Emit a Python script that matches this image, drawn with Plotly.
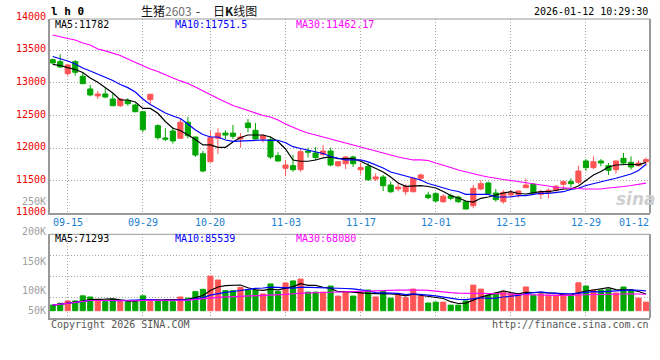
import plotly.graph_objects as go
import pandas as pd

# ---------------- data ----------------
opens = [13356, 13326, 13141, 13326, 13101, 12907, 12800, 12830, 12753, 12650,
         12733, 12661, 12558, 12743, 12344, 12155, 12262, 12150, 12396, 12170,
         11914, 11791, 12150, 12230, 12230, 12140, 12385, 12273, 12140, 12129,
         11884, 11690, 11730, 11669, 11955, 11925, 11904, 11955, 11730, 11761,
         11864, 11669, 11720, 11526, 11557, 11434, 11373, 11331, 11331, 11537,
         11281, 11301, 11178, 11270, 11250, 11178, 11117, 11373, 11465, 11311,
         11178, 11281, 11291, 11393, 11445, 11291, 11322, 11353, 11445, 11485,
         11475, 11802, 11700, 11802, 11730, 11669, 11843, 11782, 11730, 11791]
highs = [13370, 13440, 13290, 13350, 13163, 12968, 12876, 12918, 12841, 12760,
         12764, 12681, 12565, 12830, 12365, 12304, 12324, 12447, 12477, 12175,
         11955, 12273, 12304, 12273, 12355, 12230, 12447, 12385, 12212, 12181,
         11935, 11813, 11894, 11986, 12006, 12017, 12048, 12006, 11800, 11874,
         11884, 11772, 11772, 11608, 11588, 11485, 11475, 11445, 11545, 11608,
         11331, 11322, 11291, 11301, 11270, 11189, 11434, 11506, 11485, 11373,
         11353, 11362, 11353, 11537, 11465, 11362, 11383, 11434, 11506, 11537,
         11730, 11833, 11874, 11833, 11772, 11810, 11925, 11874, 11813, 11854]
lows = [13295, 13230, 13111, 13111, 12980, 12795, 12753, 12764, 12645, 12630,
        12650, 12550, 12242, 12681, 12129, 12109, 12068, 12140, 12150, 11864,
        11629, 11785, 11914, 12140, 12140, 12006, 12242, 12135, 12089, 11833,
        11795, 11568, 11638, 11638, 11854, 11813, 11874, 11720, 11710, 11680,
        11710, 11598, 11495, 11495, 11342, 11311, 11342, 11281, 11322, 11495,
        11219, 11169, 11158, 11199, 11158, 11060, 11077, 11353, 11291, 11178,
        11148, 11250, 11240, 11390, 11300, 11219, 11230, 11331, 11362, 11393,
        11445, 11649, 11680, 11720, 11588, 11608, 11741, 11669, 11720, 11730]
closes = [13306, 13244, 13275, 13163, 12988, 12815, 12830, 12784, 12650, 12753,
          12681, 12558, 12282, 12825, 12160, 12135, 12110, 12396, 12190, 11894,
          11649, 12160, 12230, 12200, 12181, 12170, 12314, 12140, 12190, 11864,
          11802, 11741, 11669, 11945, 11935, 11854, 11955, 11741, 11791, 11864,
          11761, 11700, 11515, 11557, 11423, 11331, 11403, 11414, 11537, 11588,
          11240, 11189, 11261, 11230, 11178, 11066, 11383, 11454, 11301, 11209,
          11322, 11311, 11342, 11434, 11311, 11331, 11353, 11414, 11485, 11454,
          11649, 11700, 11791, 11772, 11659, 11802, 11772, 11710, 11772, 11823]
ma5 = [13283, 13267, 13234, 13206, 13160, 13076, 13010, 12930, 12845, 12738,
       12738, 12708, 12608, 12608, 12534, 12408, 12304, 12270, 12201, 12132,
       12048, 12048, 12012, 12012, 12094, 12163, 12201, 12201, 12201, 12170,
       12101, 11986, 11818, 11798, 11798, 11818, 11849, 11864, 11839, 11839,
       11839, 11798, 11741, 11680, 11634, 11557, 11465, 11414, 11419, 11423,
       11411, 11388, 11334, 11273, 11235, 11189, 11173, 11230, 11250, 11281,
       11311, 11331, 11304, 11296, 11311, 11331, 11331, 11357, 11373, 11373,
       11419, 11503, 11588, 11641, 11710, 11741, 11752, 11752, 11744, 11782]
ma10 = [13405, 13375, 13336, 13290, 13229, 13183, 13132, 13091, 13037, 12976,
        12927, 12861, 12753, 12669, 12600, 12539, 12493, 12454, 12370, 12278,
        12209, 12170, 12170, 12124, 12104, 12109, 12124, 12124, 12124, 12120,
        12120, 12083, 12022, 11994, 11971, 11948, 11917, 11871, 11841, 11818,
        11818, 11818, 11788, 11741, 11695, 11634, 11603, 11572, 11542, 11511,
        11457, 11423, 11388, 11357, 11334, 11291, 11291, 11291, 11291, 11250,
        11250, 11250, 11270, 11270, 11291, 11307, 11307, 11319, 11331, 11365,
        11384, 11426, 11457, 11488, 11511, 11537, 11572, 11603, 11657, 11751]
ma30 = [13735, 13704, 13681, 13658, 13612, 13582, 13520, 13490, 13459, 13421,
        13367, 13313, 13267, 13214, 13175, 13122, 13075, 13030, 12991, 12937,
        12876, 12815, 12761, 12707, 12654, 12615, 12577, 12539, 12500, 12477,
        12431, 12370, 12316, 12270, 12232, 12201, 12170, 12132, 12109, 12071,
        12040, 12009, 11979, 11948, 11925, 11894, 11864, 11841, 11818, 11818,
        11810, 11772, 11741, 11703, 11664, 11634, 11611, 11580, 11557, 11534,
        11518, 11503, 11488, 11472, 11457, 11442, 11419, 11396, 11388, 11380,
        11373, 11373, 11373, 11373, 11388, 11396, 11411, 11426, 11442, 11462]
volumes = [24000, 32000, 42000, 42000, 64000, 59000, 44000, 39000, 50000, 39000,
           39000, 39000, 64000, 39000, 47000, 47000, 39000, 59000, 54000, 82000,
           92000, 149000, 132000, 86000, 86000, 100000, 89000, 89000, 72000, 115000,
           83000, 119000, 128000, 136000, 80000, 80000, 80000, 106000, 63000, 80000,
           63000, 77000, 89000, 59000, 83000, 54000, 67000, 56000, 93000, 63000,
           33000, 37000, 37000, 24000, 24000, 42000, 110000, 93000, 67000, 76000,
           80000, 72000, 67000, 102000, 67000, 72000, 67000, 67000, 67000, 63000,
           120000, 106000, 89000, 89000, 92000, 76000, 102000, 89000, 54000, 37000]
tick_index = [2, 12, 21, 31, 41, 51, 61, 71, 79]
tick_labels = ["09-15", "09-29", "10-20", "11-03", "11-17", "12-01", "12-15", "12-29", "01-12"]
price_labels = [11000, 11500, 12000, 12500, 13000, 13500, 14000]
vol_labels = ["250K", "200K", "150K", "100K", "50K"]
ma_price_text = ["MA5:11782", "MA10:11751.5", "MA30:11462.17"]
ma_vol_text = ["MA5:71293", "MA10:85539", "MA30:68080"]

# ---------------- styling ----------------
W, H = 660, 360
MONO = "DejaVu Sans Mono"
CJK = "Noto Sans CJK SC"
RED, GREEN = "#ff5555", "#00a600"
GRID = "#a8a8a8"
FRAME = "#999999"
X0, X1 = 50, 650
MAIN_TOP, MAIN_BOT = 19, 213.3
VOL_TOP, VOL_BOT = 234.3, 318

def px(v):
    return 1 - v / H

idx = list(range(len(closes)))
up = [c >= o for o, c in zip(opens, closes)]
cols = [RED if u else GREEN for u in up]

vol_s = pd.Series(volumes, dtype=float)
vma5 = vol_s.rolling(5, min_periods=1).mean().tolist()
vma10 = vol_s.rolling(10, min_periods=1).mean().tolist()
vma30 = vol_s.rolling(30, min_periods=1).mean().tolist()

fig = go.Figure()

# wicks
for flag, col in ((True, RED), (False, GREEN)):
    wx, wy = [], []
    for i in idx:
        if up[i] == flag:
            wx += [i, i, None]
            wy += [lows[i], highs[i], None]
    fig.add_trace(go.Scatter(x=wx, y=wy, mode="lines", line=dict(color=col, width=1),
                             hoverinfo="skip", xaxis="x", yaxis="y"))

# bodies
fig.add_trace(go.Bar(x=idx, y=[abs(c - o) for o, c in zip(opens, closes)],
                     base=[min(o, c) for o, c in zip(opens, closes)],
                     width=0.68, marker=dict(color=cols, line=dict(color=cols, width=1)),
                     xaxis="x", yaxis="y"))

for vals, col in ((ma5, "black"), (ma10, "#0000ff"), (ma30, "#ff00ff")):
    fig.add_trace(go.Scatter(x=idx, y=vals, mode="lines", line=dict(color=col, width=1.2),
                             xaxis="x", yaxis="y"))

# volume
fig.add_trace(go.Bar(x=idx, y=volumes, width=0.68,
                     marker=dict(color=cols, line=dict(color=cols, width=1)),
                     xaxis="x2", yaxis="y2"))
for vals, col in ((vma5, "black"), (vma10, "#0000ff"), (vma30, "#ff00ff")):
    fig.add_trace(go.Scatter(x=idx, y=vals, mode="lines", line=dict(color=col, width=1.2),
                             xaxis="x2", yaxis="y2"))

# axes
xr = [-0.36, 79.53]
price_per_px = 2500 / 163.0
yr = [11000, 11000 + (MAIN_BOT - MAIN_TOP) * price_per_px]
vol_base_px = 310.7
vol_per_px = 4300
vr = [-(VOL_BOT - vol_base_px) * vol_per_px, (vol_base_px - VOL_TOP) * vol_per_px]
vgrid = [vr[0] + k * (vr[1] - vr[0]) / 4 for k in (1, 2, 3)]

common_x = dict(domain=[X0 / W, X1 / W], range=xr, tickvals=tick_index[:-1],
                showticklabels=False, ticks="", showgrid=True, gridcolor=GRID,
                griddash="1px,2px", gridwidth=1, zeroline=False,
                showline=True, linecolor=FRAME, linewidth=2)
common_y = dict(showticklabels=False, ticks="", showgrid=True, gridcolor=GRID,
                griddash="1px,2px", gridwidth=1, zeroline=False,
                showline=True, linecolor=FRAME, linewidth=2)

fig.update_layout(
    width=W, height=H, margin=dict(l=0, r=0, t=0, b=0),
    paper_bgcolor="white", plot_bgcolor="white", showlegend=False,
    barmode="overlay",
    xaxis=dict(anchor="y", **common_x),
    yaxis=dict(anchor="x", domain=[px(MAIN_BOT), px(MAIN_TOP)], range=yr,
               tickvals=price_labels[1:-1], **common_y),
    xaxis2=dict(anchor="y2", **common_x),
    yaxis2=dict(anchor="x2", domain=[px(VOL_BOT), px(VOL_TOP)], range=vr,
                tickvals=vgrid, **common_y),
)

shapes = []
for top, bot in ((MAIN_TOP, MAIN_BOT), (VOL_TOP, VOL_BOT)):
    shapes.append(dict(type="line", xref="paper", yref="paper", x0=X0 / W, x1=X1 / W,
                       y0=px(top), y1=px(top), line=dict(color=FRAME, width=1)))
    shapes.append(dict(type="line", xref="paper", yref="paper", x0=X1 / W, x1=X1 / W,
                       y0=px(bot), y1=px(top), line=dict(color=FRAME, width=2)))
fig.update_layout(shapes=shapes)

anns = []

def ann(text, x, y, color="black", anchor="left", size=10, family=MONO, xref="paper", yref="paper", **kw):
    anns.append(dict(text=text, x=x, y=y, xref=xref, yref=yref, xanchor=anchor,
                     yanchor="middle", showarrow=False, borderpad=0,
                     font=dict(family=family, size=size, color=color), **kw))

# header
ann("<b>l h 0</b>", X0 / W, px(11), size=11)
ann("生猪<span style='color:#707070'>2603</span>", 140 / W, px(10.5), size=12, family=CJK, color="#111")
ann("-", 198 / W, px(10.5), anchor="center", size=12, family=CJK, color="#111")
ann("日<b>K</b>线图", 212 / W, px(10.5), size=12, family=CJK, color="#111")
ann("2026-01-12 10:29:30", 649 / W, px(12), anchor="right")

# price labels (placed through the price scale, in paper space so 14000 stays visible)
for p in price_labels:
    ypx = MAIN_BOT - (p - yr[0]) / price_per_px - 1.5
    ann(str(p), 46.5 / W, px(ypx), color="#ee0000", anchor="right")

# ma legends
for t, c, xp in zip(ma_price_text, ("black", "#0000ff", "#ff00ff"), (54, 174, 295)):
    ann(t, xp / W, px(24.5), color=c)
for t, c, xp in zip(ma_vol_text, ("black", "#0000ff", "#ff00ff"), (54, 174, 295)):
    ann(t, xp / W, px(238.5), color=c)

# volume labels
for t, ypx in zip(vol_labels, (201, 231, 261, 290, 310)):
    ann(t, 46.5 / W, px(ypx), color="#a0a0a0", anchor="right")

# date labels
for i, t in zip(tick_index, tick_labels):
    if t == tick_labels[-1]:
        ann(t, 649.5 / W, px(222), color="#1a80d0", anchor="right")
    else:
        ann(t, i, px(222), color="#1a80d0", anchor="center", xref="x")

# watermark
ann("<b><i>sina</i></b>", 636 / W, px(199), color="#cfcfcf", anchor="center", size=17,
    family="DejaVu Sans")

# footer
ann("Copyright 2026 SINA.COM", X0 / W, px(324), color="#555555")
ann("http://finance.sina.com.cn", 649.5 / W, px(324.5), color="#555555", anchor="right")

fig.update_layout(annotations=anns)
fig.write_html("out.html", config={"displayModeBar": False},
               post_script="document.body.style.margin='0px';document.body.style.padding='0px';")
